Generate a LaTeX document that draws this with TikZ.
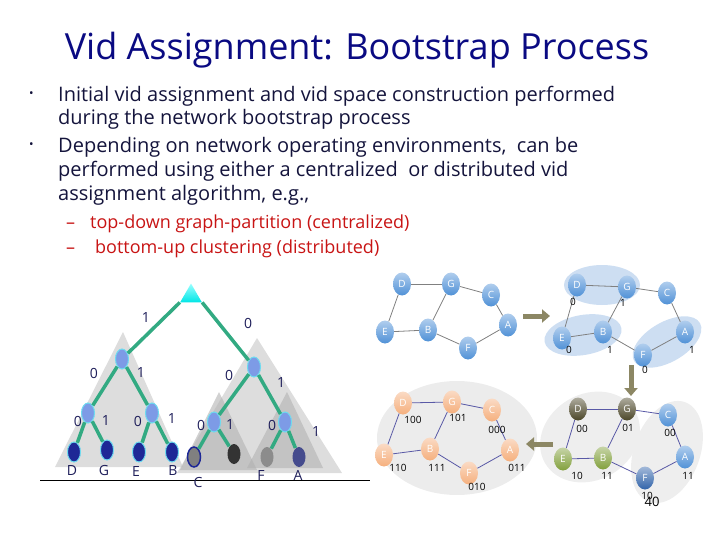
\documentclass[tikz,border=0pt]{standalone}
\usepackage{fontspec}
\setmainfont{Open Sans}
\usetikzlibrary{shapes.geometric,arrows.meta}
\definecolor{titleblue}{RGB}{10,10,130}
\definecolor{textnavy}{RGB}{20,20,60}
\definecolor{subred}{RGB}{200,20,20}
\definecolor{treegreen}{RGB}{50,170,130}
\definecolor{innerblue}{RGB}{125,155,230}
\definecolor{innercyan}{RGB}{110,220,240}
\definecolor{leafnavy}{RGB}{30,40,150}
\definecolor{bitblue}{RGB}{30,30,90}
\definecolor{gblue}{RGB}{80,145,215}
\definecolor{gpeach}{RGB}{245,175,125}
\definecolor{gbrown}{RGB}{75,70,40}
\definecolor{golive}{RGB}{130,160,60}
\definecolor{gdark}{RGB}{50,100,170}
\definecolor{clusterblue}{RGB}{205,222,242}
\definecolor{arrowolive}{RGB}{140,135,100}
\begin{document}
\begin{tikzpicture}[x=1pt,y=-1pt,
  tedge/.style={line width=3.5pt,color=treegreen},
  inner/.style={ellipse,fill=innerblue,draw=innercyan,line width=1pt,minimum width=13pt,minimum height=20pt,inner sep=0pt},
  leaf/.style={ellipse,fill=#1,draw=innercyan,line width=1pt,minimum width=13pt,minimum height=20pt,inner sep=0pt},
  bit/.style={font=\fontsize{14}{14}\selectfont,text=bitblue},
  gnode/.style={ellipse,top color=#1!45!white,bottom color=#1,minimum width=18pt,minimum height=23pt,inner sep=0pt,text=white,font=\fontsize{10}{10}\selectfont},
  gedge/.style={line width=0.8pt,color=gray},
  vid/.style={font=\fontsize{10}{10}\selectfont},
  step arrow/.style={line width=5pt,color=arrowolive,-{Triangle[width=13pt,length=8pt]}}
]
\useasboundingbox (0,0) rectangle (720,540);

% title and bullets
\node[font=\fontsize{36}{40}\selectfont,text=titleblue] (title) at (357,50) {Vid Assignment: Bootstrap Process};
\begin{scope}[every node/.style={anchor=base west,font=\fontsize{20}{22}\selectfont,text=textnavy,inner sep=0pt}]
\node[font=\fontsize{12}{12}\selectfont] (b1) at (29,98) {•};
\node (l1) at (58,102) {Initial vid assignment and vid space construction performed};
\node (l2) at (58,125) {during the network bootstrap process};
\node[font=\fontsize{12}{12}\selectfont] (b2) at (29,149) {•};
\node (l3) at (58,153) {Depending on network operating environments,\ \ can be};
\node (l4) at (58,177) {performed using either a centralized\ \ or distributed vid};
\node (l5) at (58,201) {assignment algorithm, e.g.,};
\end{scope}
\begin{scope}[every node/.style={anchor=base west,font=\fontsize{18}{20}\selectfont,text=subred,inner sep=0pt}]
\node (d1) at (66,229) {--};
\node (s1) at (90,229) {top-down graph-partition (centralized)};
\node (d2) at (66,254) {--};
\node (s2) at (95,254) {bottom-up clustering (distributed)};
\end{scope}

% gray subtrees
\fill[gray!45,opacity=.6] (123,332) -- (55,467) -- (183,467) -- cycle;
\fill[gray!45,opacity=.6] (257,338) -- (177,473) -- (342,473) -- cycle;
\fill[gray!60,opacity=.6] (219,392) -- (180,470) -- (257,470) -- cycle;
\fill[gray!60,opacity=.6] (287,392) -- (247,468) -- (323,468) -- cycle;
\draw (40,480) -- (370,480);

% partition tree
\node[regular polygon,regular polygon sides=3,minimum size=25pt,inner sep=0pt,top color=cyan!40,bottom color=cyan!80!teal] (root) at (191,296) {};
\node[inner] (r1) at (122,359) {};
\node[inner] (r0) at (254,367) {};
\node[inner] (r10) at (88,413) {};
\node[inner] (r11) at (152,413) {};
\node[inner] (r00) at (214,422) {};
\node[inner] (r01) at (285,422) {};
\node[leaf=leafnavy] (r100) at (74,452) {};
\node[leaf=leafnavy] (r101) at (107,450) {};
\node[leaf=leafnavy] (r110) at (139,452) {};
\node[leaf=leafnavy] (r111) at (172,452) {};
\node[leaf=gray,draw=leafnavy,line width=1.5pt] (r000) at (194,457) {};
\node[leaf=black!80,draw=none] (r001) at (234,454) {};
\node[leaf=gray!90,draw=none] (r010) at (267,457) {};
\node[leaf=leafnavy!60!gray,draw=none] (r011) at (299,457) {};
\draw[tedge] (root.corner 2) -- (r1);
\draw[tedge] (root.corner 3) -- (r0);
\foreach \p/\c in {r1/r10,r1/r11,r0/r00,r0/r01,r10/r100,r10/r101,r11/r110,r11/r111,r00/r000,r00/r001,r01/r010,r01/r011}
  \draw[tedge] (\p) -- (\c);
\foreach \t/\x/\y in {1/146/318,0/248/323,0/94/373,1/141/373,0/229/375,1/281/383,
  0/78/421,1/106/421,0/138/421,1/172/419,0/201/425,1/230/425,0/272/425,1/316/432}
  \node[bit] at (\x,\y) {\t};
\foreach \t/\x/\y in {D/72/470,G/104/470,E/136/471,B/173/470,C/198/482,F/261/475,A/298/475}
  \node[bit] at (\x,\y) {\t};

% graph a: physical network
\foreach \n/\x/\y in {D/402/284,G/451/284,C/491/295,E/385/332,B/428/330,A/508/325,F/468/348}
  \node[gnode=gblue] (a\n) at (\x,\y) {\n};
\foreach \u/\v in {D/G,G/C,D/E,E/B,B/G,B/F,F/A,A/C}
  \draw[gedge] (a\u) -- (a\v);

% graph b: first clustering
\fill[clusterblue] (602,285) ellipse [x radius=38pt,y radius=20pt];
\fill[clusterblue,rotate around={10:(583,335)}] (583,335) ellipse [x radius=39pt,y radius=20pt];
\fill[clusterblue,rotate around={30:(667,342)}] (667,342) ellipse [x radius=38pt,y radius=20pt];
\foreach \n/\x/\y in {D/577/285,G/627/287,C/667/293,E/562/338,B/603/332,A/685/332,F/643/355}
  \node[gnode=gblue] (b\n) at (\x,\y) {\n};
\foreach \u/\v in {D/G,G/C,D/E,E/B,B/G,B/F,F/A,A/C}
  \draw[gedge] (b\u) -- (b\v);
\foreach \t/\x/\y in {0/573/302,1/623/303,0/569/350,1/610/350,1/692/350,0/645/370}
  \node[vid] at (\x,\y) {\t};

% graph c: second clustering
\fill[gray!13,rotate around={30:(590,437)}] (590,437) ellipse [x radius=52pt,y radius=43pt];
\fill[gray!13,rotate around={-20:(667,452)}] (667,452) ellipse [x radius=33pt,y radius=53pt];
\foreach \n/\x/\y/\c in {D/578/409/gbrown,G/627/409/gbrown,C/668/415/gblue,E/563/459/golive,B/603/458/golive,A/685/457/gblue,F/645/478/gdark}
  \node[gnode=\c] (c\n) at (\x,\y) {\n};
\foreach \u/\v in {D/G,G/C,D/E,E/B,B/G,B/F,F/A,A/C}
  \draw[gedge,color=gray!70!blue] (c\u) -- (c\v);
\foreach \t/\x/\y in {00/582/429,01/628/428,00/670/433,10/577/476,11/607/476,11/688/476,10/647/496}
  \node[vid] at (\x,\y) {\t};
\node[font=\fontsize{13}{13}\selectfont] (page) at (652,502) {40};

% graph d: final vids
\fill[gray!15] (457,438) ellipse [x radius=80pt,y radius=57pt];
\foreach \n/\x/\y in {D/403/403,G/452/402,C/492/410,E/384/455,B/430/449,A/510/450,F/469/473}
  \node[gnode=gpeach] (d\n) at (\x,\y) {\n};
\foreach \u/\v in {D/G,G/C,D/E,E/B,B/G,B/F,F/A,A/C}
  \draw[gedge,color=gray!70!blue] (d\u) -- (d\v);
\foreach \t/\x/\y in {100/413/420,101/458/418,000/497/430,110/398/468,111/437/468,011/517/468,010/477/487}
  \node[vid] at (\x,\y) {\t};

% steps between the graphs
\coordinate (ab1) at (523,316);
\coordinate (ab2) at (550,316);
\coordinate (bc1) at (631,365);
\coordinate (bc2) at (631,396);
\coordinate (cd1) at (553,444);
\coordinate (cd2) at (526,444);
\draw[step arrow] (ab1) -- (ab2);
\draw[step arrow] (bc1) -- (bc2);
\draw[step arrow] (cd1) -- (cd2);
\end{tikzpicture}
\end{document}
